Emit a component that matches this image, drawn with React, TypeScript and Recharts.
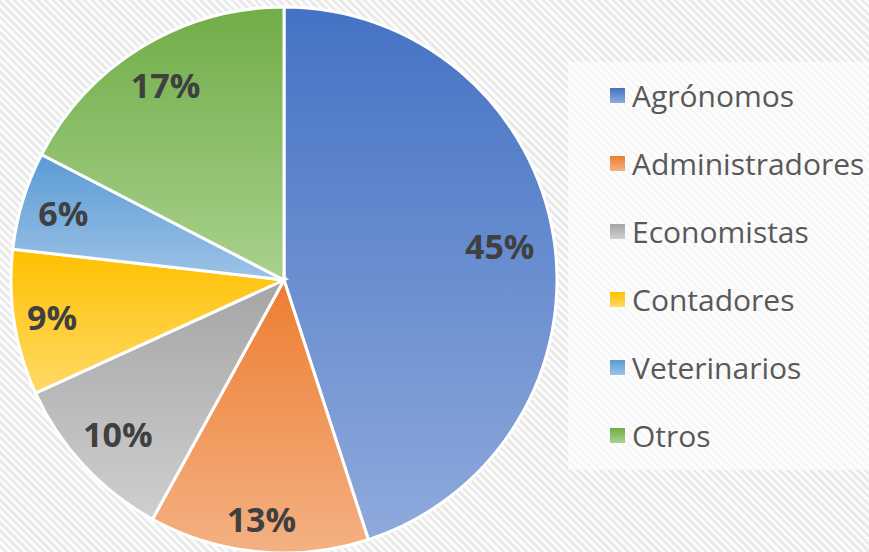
import { PieChart, Pie, Cell, Legend } from 'recharts';

const categories = ['Agrónomos', 'Administradores', 'Economistas', 'Contadores', 'Veterinarios', 'Otros'];
const shares = [45, 13, 10.2, 8.6, 5.8, 17.4];
const topColors = ['#4472C4', '#ED7D31', '#A5A5A5', '#FFC000', '#5B9BD5', '#70AD47'];
const bottomColors = ['#8FAADC', '#F4B183', '#CFCFCF', '#FFD966', '#9DC3E6', '#A9D18E'];
// how far out each label sits, as a share of the radius
const labelRadius = [0.8, 0.88, 0.83, 0.86, 0.845, 0.835];

const data = categories.map((name, i) => ({ name, value: shares[i] }));

const RAD = Math.PI / 180;

const renderLabel = (props: any) => {
  const { cx, cy, midAngle, outerRadius, value, index } = props;
  const r = outerRadius * labelRadius[index];
  const x = cx + r * Math.cos(-midAngle * RAD);
  const y = cy + r * Math.sin(-midAngle * RAD);
  return (
    <text
      x={x}
      y={y}
      textAnchor="middle"
      dominantBaseline="central"
      fill="#404040"
      fontSize={34}
      fontWeight={700}
      fontFamily="'Open Sans', sans-serif"
    >
      {Math.round(value)}%
    </text>
  );
};

const renderLegend = () => (
  <div style={{ paddingLeft: 42 }}>
    {categories.map((name, i) => (
      <div key={name} style={{ display: 'flex', alignItems: 'center', height: 68 }}>
        <span
          style={{
            width: 15,
            height: 15,
            marginRight: 7,
            background: `linear-gradient(${topColors[i]}, ${bottomColors[i]})`,
            display: 'inline-block',
          }}
        />
        <span style={{ fontSize: 30, color: '#595959', fontFamily: "'Open Sans', sans-serif", whiteSpace: 'nowrap' }}>
          {name}
        </span>
      </div>
    ))}
  </div>
);

export default function App() {
  return (
    <div
      style={{
        position: 'absolute',
        left: 0,
        top: 0,
        width: 869,
        height: 552,
        overflow: 'hidden',
        background: 'repeating-linear-gradient(45deg, #fbfbfb 0px, #fbfbfb 3px, #e9e9e9 3px, #e9e9e9 5.5px)',
      }}
    >
      <div
        style={{
          position: 'absolute',
          left: 568,
          top: 62,
          width: 301,
          height: 408,
          background: 'rgba(255,255,255,0.6)',
        }}
      />
      <PieChart
        width={869}
        height={552}
        margin={{ top: 0, right: 0, bottom: 0, left: 0 }}
        style={{ position: 'absolute', left: 0, top: 0 }}
      >
        <defs>
          {categories.map((name, i) => (
            <linearGradient key={name} id={`grad${i}`} x1="0" y1="0" x2="0" y2="1">
              <stop offset="0%" stopColor={topColors[i]} />
              <stop offset="100%" stopColor={bottomColors[i]} />
            </linearGradient>
          ))}
        </defs>
        <Pie
          data={data}
          dataKey="value"
          nameKey="name"
          cx={284}
          cy={280}
          outerRadius={273}
          startAngle={90}
          endAngle={-270}
          stroke="#ffffff"
          strokeWidth={3}
          label={renderLabel}
          labelLine={false}
          isAnimationActive={false}
        >
          {data.map((entry, i) => (
            <Cell key={entry.name} fill={`url(#grad${i})`} />
          ))}
        </Pie>
        <Legend
          content={renderLegend}
          wrapperStyle={{ position: 'absolute', left: 568, top: 61, width: 301, height: 408 }}
        />
      </PieChart>
    </div>
  );
}
